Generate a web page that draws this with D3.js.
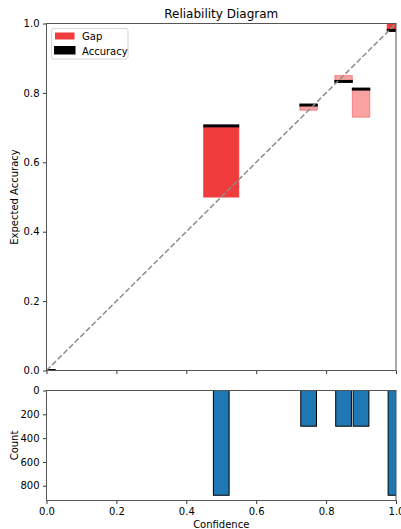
<!DOCTYPE html>
<html><head><meta charset="utf-8">
<script src="https://cdn.jsdelivr.net/npm/d3@7"></script>
<style>
html,body{margin:0;padding:0;background:#fff;}
svg{display:block;font-family:"DejaVu Sans",sans-serif;}
</style></head>
<body><svg id="chart" width="401" height="529"></svg>
<script>
// ---- data ----
const binCenters  = [0.0, 0.5, 0.75, 0.85, 0.9, 1.0];
const binWidths   = [0.05, 0.1, 0.05, 0.05, 0.05, 0.05];
const accuracies  = [0.0, 0.705, 0.765, 0.833, 0.811, 0.98];
const confidences = [0.0, 0.5, 0.75, 0.85, 0.73, 1.0];
const counts      = [0, 880, 300, 300, 300, 880];
const xTicks      = [0, 0.2, 0.4, 0.6, 0.8, 1.0];
const accTicks    = [0, 0.2, 0.4, 0.6, 0.8, 1.0];
const countTicks  = [0, 200, 400, 600, 800];
const histWidth   = 0.045;

const svg = d3.select("#chart");
const L = 46.5, R = 396, T1 = 23.5, B1 = 370.5, T2 = 390.5, B2 = 500.5;
const x = d3.scaleLinear().domain([0, 1]).range([L, R]);
const y = d3.scaleLinear().domain([0, 1]).range([B1, T1]);
const maxCount = d3.max(counts);
const yc = d3.scaleLinear().domain([0, maxCount * 1.05]).range([T2, B2]);

const defs = svg.append("defs");
defs.append("clipPath").attr("id", "c1").append("rect").attr("x", L).attr("y", T1).attr("width", R - L).attr("height", B1 - T1);
defs.append("clipPath").attr("id", "c2").append("rect").attr("x", L).attr("y", T2).attr("width", R - L).attr("height", B2 - T2);

const bins = binCenters.map((c, i) => ({c, w: binWidths[i], acc: accuracies[i], conf: confidences[i], n: counts[i]}));
const gapColor = d => `rgba(240,60,60,${0.2 + 0.8 * d.n / maxCount})`;

// top panel
const g1 = svg.append("g").attr("clip-path", "url(#c1)");
g1.selectAll("rect.gap").data(bins.filter(d => Math.abs(d.acc - d.conf) > 0)).join("rect")
  .attr("x", d => x(d.c - d.w / 2)).attr("width", d => x(d.c + d.w / 2) - x(d.c - d.w / 2))
  .attr("y", d => y(Math.max(d.acc, d.conf))).attr("height", d => y(Math.min(d.acc, d.conf)) - y(Math.max(d.acc, d.conf)))
  .attr("fill", gapColor).attr("stroke", gapColor).attr("stroke-width", 1);
g1.selectAll("rect.acc").data(bins).join("rect")
  .attr("x", d => x(d.c - d.w / 2) - 0.5).attr("width", d => x(d.c + d.w / 2) - x(d.c - d.w / 2) + 1)
  .attr("y", d => y(d.acc) - 1.5).attr("height", 3).attr("fill", "#000");
g1.append("line").attr("x1", x(0)).attr("y1", y(0)).attr("x2", x(1)).attr("y2", y(1))
  .attr("stroke", "#8c8c8c").attr("stroke-width", 1.5).attr("stroke-dasharray", "5.55,2.4");

// bottom panel
const g2 = svg.append("g").attr("clip-path", "url(#c2)");
g2.selectAll("rect").data(bins.filter(d => d.n > 0)).join("rect")
  .attr("x", d => x(d.c - histWidth / 2)).attr("width", d => x(d.c + histWidth / 2) - x(d.c - histWidth / 2))
  .attr("y", yc(0)).attr("height", d => yc(d.n) - yc(0))
  .attr("fill", "#1f77b4").attr("stroke", "#000").attr("stroke-width", 1);

// axes
function styleAxis(sel) {
  sel.select(".domain").remove();
  sel.selectAll(".tick line").attr("stroke", "#000").attr("stroke-width", 0.8);
  sel.selectAll(".tick text").attr("fill", "#000").style("font-size", "10px").style("font-family", "DejaVu Sans");
}
svg.append("g").attr("transform", `translate(${L},0)`)
  .call(d3.axisLeft(y).tickValues(accTicks).tickFormat(d3.format(".1f")).tickSize(3.5).tickPadding(3.5)).call(styleAxis);
svg.append("g").attr("transform", `translate(0,${B1})`)
  .call(d3.axisBottom(x).tickValues(xTicks).tickFormat("").tickSize(3.5)).call(styleAxis);
svg.append("g").attr("transform", `translate(${L},0)`)
  .call(d3.axisLeft(yc).tickValues(countTicks).tickFormat(d3.format("d")).tickSize(3.5).tickPadding(3.5)).call(styleAxis);
svg.append("g").attr("transform", `translate(0,${B2})`)
  .call(d3.axisBottom(x).tickValues(xTicks).tickFormat(d3.format(".1f")).tickSize(3.5).tickPadding(3.5)).call(styleAxis);

// spines
[[T1, B1], [T2, B2]].forEach(([t, b]) => {
  svg.append("rect").attr("x", L).attr("y", t).attr("width", R - L).attr("height", b - t)
    .attr("fill", "none").attr("stroke", "#555").attr("stroke-width", 1);
});

// labels
svg.append("text").attr("x", (L + R) / 2).attr("y", 18).attr("text-anchor", "middle")
  .style("font-size", "12px").text("Reliability Diagram");
svg.append("text").attr("transform", `translate(18,${(T1 + B1) / 2}) rotate(-90)`).attr("text-anchor", "middle")
  .style("font-size", "10px").text("Expected Accuracy");
svg.append("text").attr("transform", `translate(18,${(T2 + B2) / 2}) rotate(-90)`).attr("text-anchor", "middle")
  .style("font-size", "10px").text("Count");
svg.append("text").attr("x", (L + R) / 2).attr("y", 527.5).attr("text-anchor", "middle")
  .style("font-size", "10px").text("Confidence");

// legend
const lg = svg.append("g");
lg.append("rect").attr("x", 51.5).attr("y", 28.5).attr("width", 76.5).attr("height", 30.5).attr("rx", 2)
  .attr("fill", "rgba(255,255,255,0.8)").attr("stroke", "#ccc").attr("stroke-width", 0.8);
lg.append("rect").attr("x", 55).attr("y", 32.5).attr("width", 19.5).attr("height", 7)
  .attr("fill", "rgb(240,60,60)");
lg.append("rect").attr("x", 54).attr("y", 46).attr("width", 21.5).attr("height", 8.5).attr("fill", "#000");
lg.append("text").attr("x", 82).attr("y", 40).style("font-size", "10px").text("Gap");
lg.append("text").attr("x", 82).attr("y", 54.5).style("font-size", "10px").text("Accuracy");
</script></body></html>
